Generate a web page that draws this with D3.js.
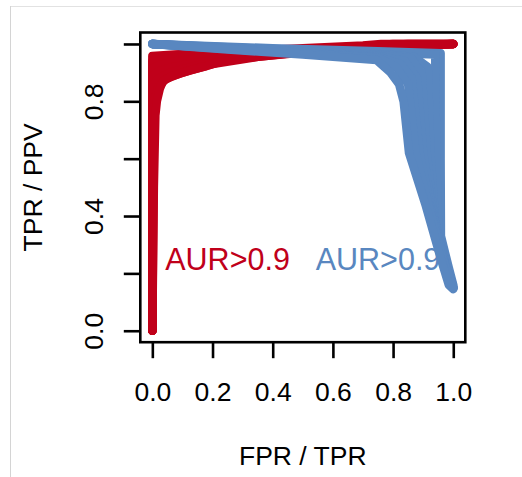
<!DOCTYPE html>
<html>
<head>
<meta charset="utf-8">
<script src="https://cdn.jsdelivr.net/npm/d3@7"></script>
<style>
  html, body { margin: 0; padding: 0; background: #fff; }
  svg { display: block; }
  text { font-family: "Liberation Sans", Arial, Helvetica, sans-serif; }
</style>
</head>
<body>
<svg id="chart" width="522" height="477"></svg>
<script>
// ---- data ----
const xTicks = [0, 0.2, 0.4, 0.6, 0.8, 1.0];
const xTickLabels = ["0.0", "0.2", "0.4", "0.6", "0.8", "1.0"];
const yTicks = [0, 0.2, 0.4, 0.6, 0.8, 1.0];
const yTickLabels = ["0.0", "", "0.4", "", "0.8", ""];
const xTitle = "FPR / TPR";
const yTitle = "TPR / PPV";

// ROC curves (FPR, TPR)
const rocCurves = [
  [[0,0],[0,0.958],[0.1,0.965],[0.3,0.975],[0.5,0.985],[0.7,0.995],[0.76,1],[1,1]],
  [[0,0],[0,0.94],[0.03,0.945],[0.1,0.955],[0.3,0.97],[0.5,0.982],[0.7,0.992],[0.8,1],[1,1]],
  [[0,0],[0,0.915],[0.02,0.925],[0.08,0.94],[0.2,0.955],[0.4,0.972],[0.6,0.985],[0.85,1],[1,1]],
  [[0,0],[0.002,0.89],[0.02,0.905],[0.07,0.92],[0.18,0.94],[0.35,0.96],[0.55,0.978],[0.8,0.995],[1,1]],
  [[0,0],[0.004,0.86],[0.02,0.88],[0.06,0.9],[0.15,0.925],[0.3,0.95],[0.5,0.972],[0.8,0.992],[1,1]],
  [[0,0],[0.006,0.8],[0.02,0.85],[0.045,0.878],[0.1,0.9],[0.2,0.93],[0.35,0.955],[0.5,0.97],[0.8,0.99],[1,1]],
  [[0,0],[0.005,0.5],[0.01,0.75],[0.015,0.8],[0.025,0.845],[0.036,0.871],[0.065,0.888],[0.125,0.908],[0.18,0.923],[0.236,0.941],[0.291,0.952],[0.347,0.962],[0.402,0.966],[0.6,0.98],[0.8,0.99],[1,1]]
];

// PR curves (TPR, PPV)
const prCurves = [
  [[0,1],[0.4,0.985],[0.75,0.975],[0.958,0.968],[0.958,0.6],[0.959,0.33],[0.985,0.22],[1,0.16]],
  [[0,1],[0.4,0.982],[0.75,0.97],[0.94,0.963],[0.943,0.6],[0.95,0.35],[0.98,0.22],[1,0.155]],
  [[0,1],[0.4,0.98],[0.75,0.965],[0.87,0.955],[0.915,0.92],[0.925,0.6],[0.94,0.38],[0.975,0.22],[1,0.15]],
  [[0,1],[0.4,0.978],[0.75,0.962],[0.86,0.95],[0.895,0.9],[0.912,0.62],[0.935,0.4],[0.972,0.23],[1,0.15]],
  [[0,1],[0.4,0.977],[0.75,0.958],[0.84,0.94],[0.88,0.88],[0.9,0.62],[0.93,0.42],[0.97,0.24],[1,0.15]],
  [[0,1],[0.4,0.975],[0.75,0.955],[0.825,0.93],[0.862,0.88],[0.888,0.62],[0.925,0.425],[0.967,0.245],[1,0.15]],
  [[0,1],[0.4,0.973],[0.75,0.952],[0.81,0.92],[0.85,0.86],[0.875,0.62],[0.92,0.43],[0.965,0.25],[1,0.148]],
  [[0,1],[0.25,0.981],[0.5,0.963],[0.745,0.944],[0.79,0.902],[0.82,0.86],[0.835,0.8],[0.853,0.62],[0.909,0.435],[0.959,0.25],[0.985,0.16],[1,0.145]]
];

const annotations = [
  { x: 0.25, y: 0.25, text: "AUR>0.9", series: "roc" },
  { x: 0.75, y: 0.25, text: "AUR>0.9", series: "pr" }
];

// ---- drawing ----
const colors = { roc: "#c0001a", pr: "#5987c0" };
const svg = d3.select("#chart");

// outer page frame
svg.append("line").attr("x1", 10).attr("x2", 522).attr("y1", 6.5).attr("y2", 6.5)
  .attr("stroke", "#e2e2e2").attr("stroke-width", 1);
svg.append("line").attr("x1", 10.5).attr("x2", 10.5).attr("y1", 6).attr("y2", 477)
  .attr("stroke", "#d4d4d4").attr("stroke-width", 1);

const x = d3.scaleLinear().domain([-0.04, 1.04]).range([140.3, 465.3]);
const y = d3.scaleLinear().domain([-0.04, 1.04]).range([342.2, 32.5]);

const line = d3.line().x(d => x(d[0])).y(d => y(d[1]));

const g = svg.append("g");
g.selectAll("path.roc").data(rocCurves).join("path")
  .attr("class", "roc")
  .attr("d", line)
  .attr("fill", "none")
  .attr("stroke", colors.roc)
  .attr("stroke-width", 8.5)
  .attr("stroke-linecap", "round")
  .attr("stroke-linejoin", "round");

g.selectAll("path.pr").data(prCurves).join("path")
  .attr("class", "pr")
  .attr("d", line)
  .attr("fill", "none")
  .attr("stroke", colors.pr)
  .attr("stroke-width", 8.5)
  .attr("stroke-linecap", "round")
  .attr("stroke-linejoin", "round");

// annotations
svg.selectAll("text.ann").data(annotations).join("text")
  .attr("class", "ann")
  .attr("x", d => x(d.x))
  .attr("y", d => y(d.y))
  .attr("dy", "0.37em")
  .attr("text-anchor", "middle")
  .attr("font-size", 30.5)
  .attr("fill", d => colors[d.series])
  .text(d => d.text);

// box
svg.append("rect")
  .attr("x", x(-0.04)).attr("y", y(1.04))
  .attr("width", x(1.04) - x(-0.04)).attr("height", y(-0.04) - y(1.04))
  .attr("fill", "none").attr("stroke", "#000").attr("stroke-width", 2.6);

// x axis
const xAxis = d3.axisBottom(x).tickValues(xTicks).tickSize(16).tickPadding(0)
  .tickFormat((d, i) => xTickLabels[i]);
const gx = svg.append("g").attr("transform", `translate(0,${y(-0.04)})`).call(xAxis);
gx.select(".domain").remove();
gx.selectAll(".tick line").attr("stroke", "#000").attr("stroke-width", 2.6);
gx.selectAll(".tick text").attr("font-size", 26.5).attr("fill", "#000")
  .attr("font-family", "Liberation Sans, Arial, sans-serif")
  .attr("y", 59).attr("dy", 0);

// y axis
const yAxis = d3.axisLeft(y).tickValues(yTicks).tickSize(16.5).tickPadding(0)
  .tickFormat((d, i) => yTickLabels[i]);
const gy = svg.append("g").attr("transform", `translate(${x(-0.04)},0)`).call(yAxis);
gy.select(".domain").remove();
gy.selectAll(".tick line").attr("stroke", "#000").attr("stroke-width", 2.6);
gy.selectAll(".tick text").attr("font-size", 26.5).attr("fill", "#000")
  .attr("font-family", "Liberation Sans, Arial, sans-serif")
  .attr("x", null).attr("dy", 0)
  .attr("text-anchor", "middle")
  .attr("transform", "translate(-37.5,0) rotate(-90)");

// titles
svg.append("text")
  .attr("x", (x(0) + x(1)) / 2).attr("y", 465)
  .attr("text-anchor", "middle").attr("font-size", 26.5).attr("fill", "#000")
  .text(xTitle);
svg.append("text")
  .attr("transform", `translate(42,${(y(0) + y(1)) / 2}) rotate(-90)`)
  .attr("text-anchor", "middle").attr("font-size", 26.5).attr("fill", "#000")
  .text(yTitle);
</script>
</body>
</html>
